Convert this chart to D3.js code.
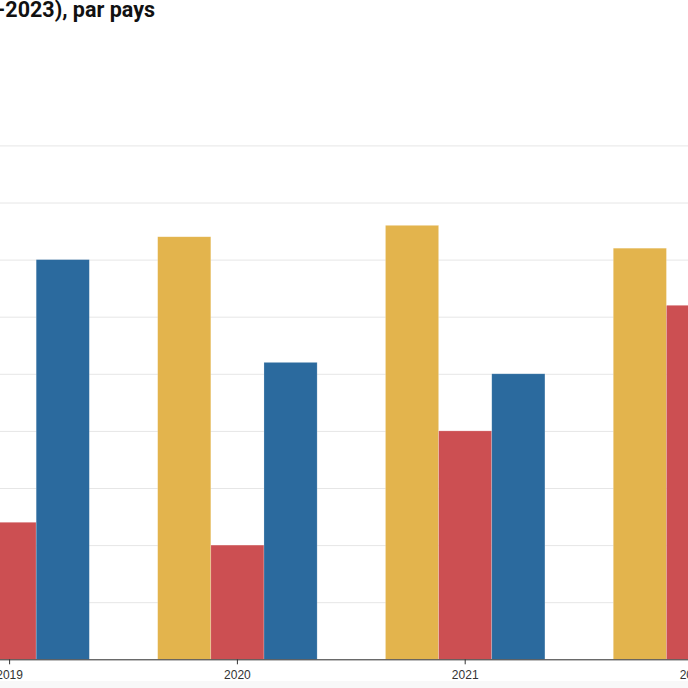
<!DOCTYPE html>
<html>
<head>
<meta charset="utf-8">
<script src="https://cdn.jsdelivr.net/npm/d3@7"></script>
<style>
  html, body { margin: 0; padding: 0; background: #fff; }
  svg { display: block; font-family: Roboto, "Noto Sans", sans-serif; }
</style>
</head>
<body>
<svg id="chart"></svg>
<script>
// values (one gridline = 5); null = outside the visible crop
let years = ["2019", "2020", "2021", "2022", "2023"];
let series = ["pays A", "pays B", "pays C"];
let valuesA = [null, 37, 38, 36, null];
let valuesB = [12, 10, 20, 31, null];
let valuesC = [35, 26, 25, null, null];
let yTicks = [0, 5, 10, 15, 20, 25, 30, 35, 40, 45];
let colors = ["#e3b44d", "#cc4f52", "#2b6a9e"];
let titleText = "(2019-2023), par pays";

let width = 688;
let height = 688;

let svg = d3.select("#chart").attr("width", width).attr("height", height);

let rows = years.map((year, i) => {
  return { year: year, values: [valuesA[i], valuesB[i], valuesC[i]] };
});

// the plot runs past both edges of the crop
let plotLeft = -104.3;
let plotRight = 1034.7;
let plotTop = 145.4;
let plotBottom = 659.3;

let x0 = d3.scaleBand()
  .domain(years)
  .range([plotLeft, plotRight])
  .paddingInner(0.3)
  .paddingOuter(0.15);

let x1 = d3.scaleBand()
  .domain(series)
  .range([0, x0.bandwidth()]);

let yScale = d3.scaleLinear()
  .domain([0, 45])
  .range([plotBottom, plotTop]);

let colorScale = d3.scaleOrdinal().domain(series).range(colors);

// footer band
svg.append("rect")
  .attr("x", 0)
  .attr("y", 681)
  .attr("width", width)
  .attr("height", height - 681)
  .attr("fill", "#f8f8f8");

// gridlines, value labels fall left of the crop
let yAxis = d3.axisLeft(yScale)
  .tickValues(yTicks)
  .tickSize(-(plotRight - plotLeft))
  .tickFormat(d3.format("d"));

let gy = svg.append("g")
  .attr("id", "y-axis")
  .attr("transform", "translate(" + plotLeft + ",0)")
  .call(yAxis);
gy.select(".domain").remove();
gy.selectAll(".tick line")
  .attr("stroke", "#e6e6e6")
  .attr("stroke-width", 1);
gy.selectAll(".tick text")
  .attr("fill", "#333")
  .style("font-size", "12px");

// bars
let groups = svg.append("g")
  .selectAll("g")
  .data(rows)
  .enter()
  .append("g")
  .attr("transform", (d) => "translate(" + x0(d.year) + ",0)");

groups.selectAll("rect")
  .data((d) => d.values
    .map((v, i) => ({ key: series[i], value: v }))
    .filter((item) => item.value !== null))
  .enter()
  .append("rect")
  .attr("x", (d) => x1(d.key))
  .attr("width", x1.bandwidth())
  .attr("y", (d) => yScale(d.value))
  .attr("height", (d) => yScale(0) - yScale(d.value))
  .attr("fill", (d) => colorScale(d.key))
  .attr("stroke", "#fff")
  .attr("stroke-opacity", 0.35)
  .attr("stroke-width", 0.6);

// x axis
let xAxis = d3.axisBottom(x0).tickSizeOuter(0).tickSize(5).tickPadding(6);

let gx = svg.append("g")
  .attr("id", "x-axis")
  .attr("transform", "translate(0," + plotBottom + ")")
  .call(xAxis);
gx.select(".domain").attr("stroke", "#333");
gx.selectAll(".tick line").attr("stroke", "#333");
gx.selectAll(".tick text")
  .attr("fill", "#333")
  .style("font-size", "12px");

// title, cut by the left edge like the reference
svg.append("text")
  .attr("x", 155)
  .attr("y", 17)
  .attr("text-anchor", "end")
  .style("font-size", "21.5px")
  .style("font-weight", "700")
  .attr("fill", "#111")
  .text(titleText);
</script>
</body>
</html>
